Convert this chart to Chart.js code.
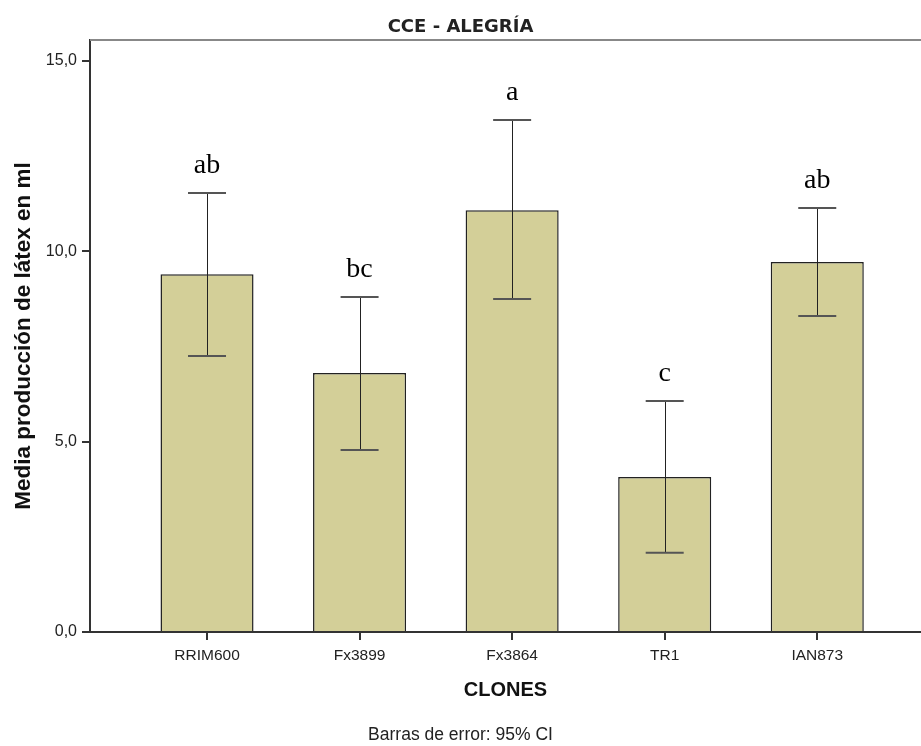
<!DOCTYPE html>
<html>
<head>
<meta charset="utf-8">
<script src="https://cdn.jsdelivr.net/npm/chart.js@4.4.0/dist/chart.umd.min.js"></script>
<style>
    html, body { margin: 0; padding: 0; background: #fff; overflow: hidden; }
    #wrap { width: 921px; height: 746px; }
</style>
</head>
<body>
<div id="wrap"><canvas id="barClones"></canvas></div>
<script>
// dữ liệu
var clones = ["RRIM600", "Fx3899", "Fx3864", "TR1", "IAN873"];
var means = [9.40, 6.80, 11.08, 4.07, 9.72];
var ciLow = [7.25, 4.78, 8.75, 2.08, 8.30];
var ciHigh = [11.53, 8.80, 13.45, 6.07, 11.14];
var letters = ["ab", "bc", "a", "c", "ab"];
var yTicks = [0, 5, 10, 15];

var sansFont = "'Liberation Sans', Arial, sans-serif";

var barData = [];
for (let i = 0; i < clones.length; i++) {
    barData.push({ x: i, y: means[i] });
}

// vẽ thanh sai số + chữ cái
var errorBarPlugin = {
    id: "errorBars",
    afterDatasetsDraw: function(chart) {
        var ctx = chart.ctx;
        var xs = chart.scales.x;
        var ys = chart.scales.y;
        ctx.save();
        for (let i = 0; i < clones.length; i++) {
            var x = xs.getPixelForValue(i);
            var yHi = ys.getPixelForValue(ciHigh[i]);
            var yLo = ys.getPixelForValue(ciLow[i]);
            ctx.strokeStyle = "#222";
            ctx.lineWidth = 1;
            ctx.beginPath();
            ctx.moveTo(Math.round(x) + 0.5, yHi);
            ctx.lineTo(Math.round(x) + 0.5, yLo);
            ctx.stroke();
            ctx.strokeStyle = "#555";
            ctx.lineWidth = 2;
            ctx.beginPath();
            ctx.moveTo(x - 19, yHi);
            ctx.lineTo(x + 19, yHi);
            ctx.moveTo(x - 19, yLo);
            ctx.lineTo(x + 19, yLo);
            ctx.stroke();

            ctx.fillStyle = "#000";
            ctx.font = "28px 'Liberation Serif', 'DejaVu Serif', serif";
            ctx.textAlign = "center";
            ctx.textBaseline = "alphabetic";
            ctx.fillText(letters[i], x, yHi - 20);
        }
        // viền trên màu xám
        var area = chart.chartArea;
        ctx.strokeStyle = "#888";
        ctx.lineWidth = 2;
        ctx.beginPath();
        ctx.moveTo(area.left, area.top);
        ctx.lineTo(area.right, area.top);
        ctx.stroke();
        ctx.restore();
    }
};

var barCanvas = document.getElementById("barClones").getContext("2d");

new Chart(barCanvas, {
    type: "bar",
    data: {
        datasets: [{
            label: "Media",
            data: barData,
            backgroundColor: "#d3cf98",
            borderColor: "#222",
            borderWidth: 1.5,
            barPercentage: 0.61,
            categoryPercentage: 1
        }]
    },
    options: {
        responsive: true,
        maintainAspectRatio: false,
        animation: false,
        layout: { padding: { left: 0, right: 0, top: 0, bottom: 0 } },
        plugins: {
            legend: { display: false },
            tooltip: { enabled: false },
            title: {
                display: true,
                text: "CCE - ALEGRÍA",
                color: "#222",
                font: { family: "'DejaVu Sans', Verdana, sans-serif", size: 18, weight: "bold" },
                padding: { top: 16.4, bottom: 2 }
            },
            subtitle: {
                display: true,
                position: "bottom",
                text: "Barras de error: 95% CI",
                color: "#222",
                font: { family: sansFont, size: 17.5 },
                padding: { top: 23, bottom: 0 }
            }
        },
        scales: {
            x: {
                type: "linear",
                min: -0.767,
                max: 4.68,
                offset: false,
                afterBuildTicks: function(scale) {
                    scale.ticks = clones.map(function(c, i) { return { value: i }; });
                },
                afterFit: function(scale) { scale.height = 70; },
                ticks: {
                    autoSkip: false,
                    maxRotation: 0,
                    padding: 6,
                    color: "#222",
                    font: { family: sansFont, size: 15.5 },
                    callback: function(v) { return clones[v]; }
                },
                grid: { offset: false, drawOnChartArea: false, drawTicks: true, tickLength: 8, color: "#333", lineWidth: 2 },
                border: { color: "#333", width: 2 },
                title: {
                    display: true,
                    text: "CLONES",
                    color: "#111",
                    font: { family: sansFont, size: 20, weight: "bold" },
                    padding: 0
                }
            },
            y: {
                min: 0,
                max: 15.55,
                afterBuildTicks: function(scale) {
                    scale.ticks = yTicks.map(function(v) { return { value: v }; });
                },
                afterFit: function(scale) { scale.width = 90; },
                ticks: {
                    padding: 5,
                    color: "#222",
                    font: { family: sansFont, size: 16 },
                    callback: function(v) { return v.toFixed(1).replace(".", ","); }
                },
                grid: { drawOnChartArea: false, drawTicks: true, tickLength: 8, color: "#333", lineWidth: 2 },
                border: { color: "#333", width: 2 },
                title: {
                    display: true,
                    text: "Media producción de látex en ml",
                    color: "#111",
                    font: { family: sansFont, size: 22.5, weight: "bold" },
                    padding: 10
                }
            }
        }
    },
    plugins: [errorBarPlugin]
});
</script>
</body>
</html>
